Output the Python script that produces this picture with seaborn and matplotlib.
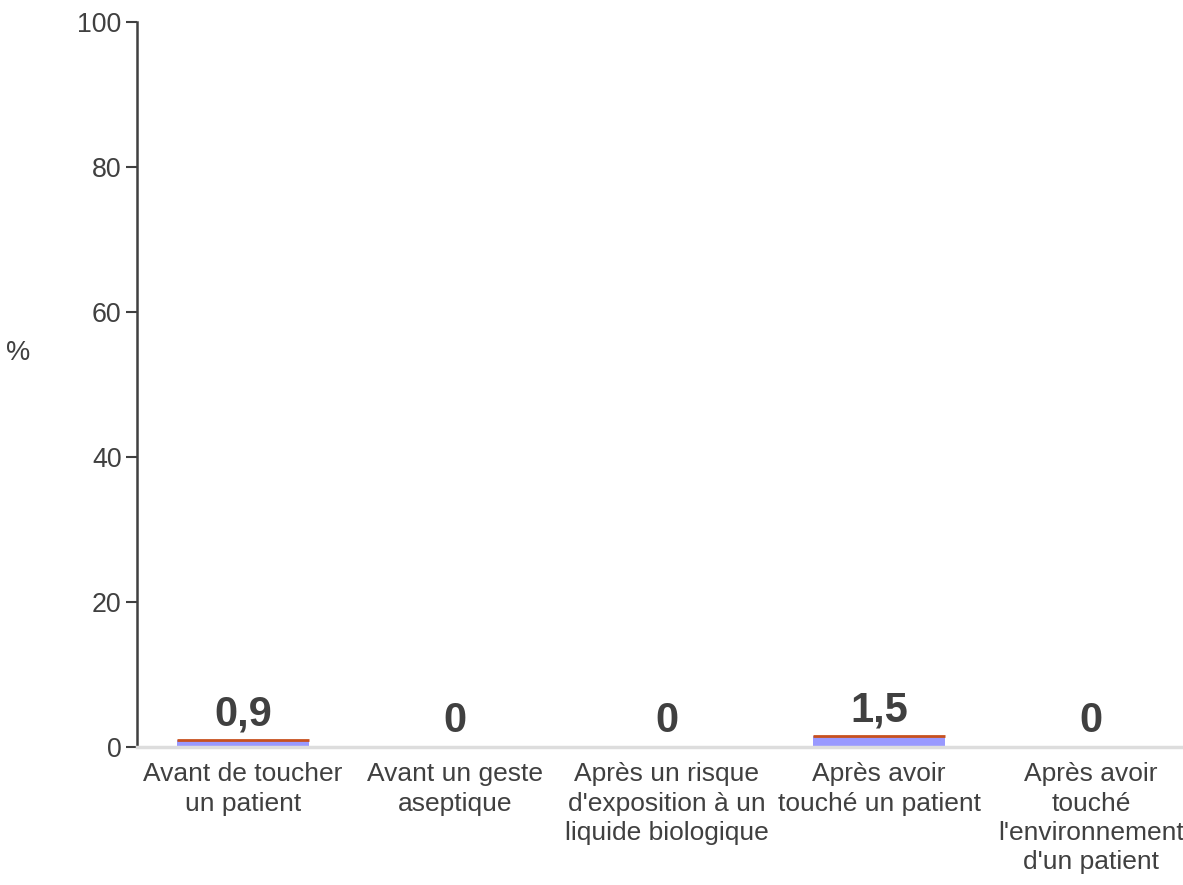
import matplotlib
matplotlib.use("Agg")
import matplotlib.pyplot as plt
import seaborn as sns
import pandas as pd

# Hand hygiene opportunities (%) by WHO moment
categories = [
    "Avant de toucher\nun patient",
    "Avant un geste\naseptique",
    "Après un risque\nd'exposition à un\nliquide biologique",
    "Après avoir\ntouché un patient",
    "Après avoir\ntouché\nl'environnement\nd'un patient",
]
values = [0.9, 0.0, 0.0, 1.5, 0.0]
y_ticks = [0, 20, 40, 60, 80, 100]

bar_color = "#9999FF"
top_color = "#C8501E"
text_color = "#404040"
bar_width = 0.62

sns.set_theme(style="white")
plt.rcParams["font.family"] = ["Liberation Sans", "DejaVu Sans"]

df = pd.DataFrame({"moment": categories, "pct": values})

fig = plt.figure(figsize=(11.83, 8.85), dpi=100)
ax = fig.add_axes([137 / 1183, 1 - 747 / 885, 1060 / 1183, 725 / 885])

sns.barplot(data=df, x="moment", y="pct", color=bar_color, width=bar_width,
            saturation=1, ax=ax, linewidth=0)

# thin accent line along the top of each non-zero bar
for i, v in enumerate(values):
    if v > 0:
        ax.hlines(v, i - bar_width / 2, i + bar_width / 2, color=top_color,
                  linewidth=2, zorder=3)

# value labels with a comma decimal separator
for i, v in enumerate(values):
    label = f"{v:g}".replace(".", ",")
    ax.annotate(label, (i, v), xytext=(0, 10.5), textcoords="offset points",
                ha="center", va="baseline", fontsize=30, fontweight="bold",
                color=text_color)

ax.set_ylim(0, 100)
ax.set_xlim(-0.5, 4.5)
ax.set_yticks(y_ticks)
ax.set_yticklabels([str(t) for t in y_ticks])

ax.tick_params(axis="y", direction="out", length=8, width=1.5,
               color=text_color, labelsize=19.3, labelcolor=text_color, pad=3,
               left=True)
ax.tick_params(axis="x", length=0, labelsize=19, labelcolor=text_color, pad=11)
for lbl in ax.get_xticklabels():
    lbl.set_linespacing(1.28)

for side in ("top", "right"):
    ax.spines[side].set_visible(False)
ax.spines["left"].set_color(text_color)
ax.spines["left"].set_linewidth(1.8)
ax.spines["bottom"].set_color("#DDDDDD")
ax.spines["bottom"].set_linewidth(2.5)

ax.set_xlabel("")
ax.set_ylabel("%", rotation=0, fontsize=19.5, color=text_color)
ax.yaxis.set_label_coords(-0.112, 0.526)

fig.savefig("out.png", dpi=100, facecolor="white")
